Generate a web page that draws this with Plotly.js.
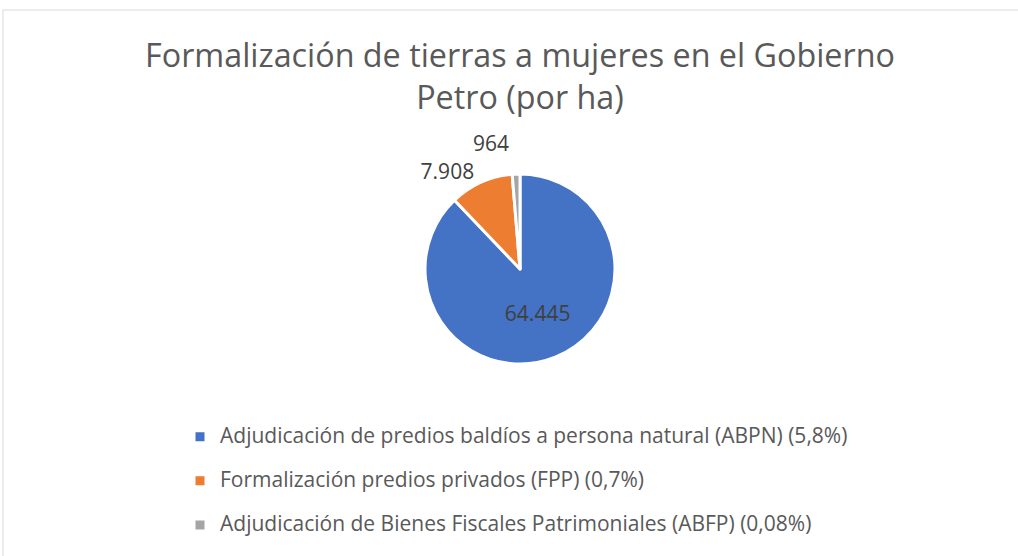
<!DOCTYPE html>
<html>
<head>
<meta charset="utf-8">
<script src="https://cdn.plot.ly/plotly-3.0.1.min.js"></script>
<style>html,body{margin:0;padding:0;background:#fff;}#chart{width:1018px;height:556px;}</style>
</head>
<body>
<div id="chart"></div>
<script>
var categories = [
  "Adjudicación de predios baldíos a persona natural (ABPN) (5,8%)",
  "Formalización predios privados (FPP) (0,7%)",
  "Adjudicación de Bienes Fiscales Patrimoniales (ABFP) (0,08%)"
];
var hectares = [64445, 7908, 964];
var sliceColors = ["#4472C4", "#ED7D31", "#A5A5A5"];
var chartTitle = "Formalización de tierras a mujeres en el Gobierno<br>Petro (por ha)";

var W = 1018, H = 556;
var legendLabels = categories.map(function(c){
  return '<span style="font-size:21px">' + c + '</span><br> ';
});

var trace = {
  type: 'pie',
  labels: legendLabels,
  values: hectares,
  sort: false,
  direction: 'clockwise',
  rotation: 0,
  marker: {colors: sliceColors, line: {color: '#ffffff', width: 3}},
  texttemplate: '%{value:,.0f}',
  textposition: ['inside', 'outside', 'outside'],
  insidetextorientation: 'horizontal',
  textfont: {family: 'Open Sans', size: 21, color: '#404040'},
  insidetextfont: {family: 'Open Sans', size: 21, color: '#404040'},
  outsidetextfont: {family: 'Open Sans', size: 21, color: '#404040'},
  hoverinfo: 'skip',
  domain: {x: [425/W, 615/W], y: [1 - 364/H, 1 - 174/H]}
};

var layout = {
  width: W, height: H,
  margin: {l: 0, r: 0, t: 0, b: 0, autoexpand: false},
  paper_bgcolor: '#ffffff',
  plot_bgcolor: '#ffffff',
  separators: ',.',
  font: {family: 'Open Sans', color: '#595959'},
  title: {
    text: chartTitle,
    font: {family: 'Open Sans', size: 32.3, color: '#595959'},
    x: 520/W, xanchor: 'center', xref: 'paper',
    y: 1 - 67/H, yanchor: 'middle', yref: 'container'
  },
  showlegend: true,
  legend: {
    orientation: 'v',
    x: 180/W, xanchor: 'left',
    y: 1 - 420/H, yanchor: 'top',
    valign: 'top',
    font: {family: 'Open Sans', size: 15.8, color: '#595959'},
    bgcolor: 'rgba(0,0,0,0)'
  },
  shapes: [
    {type: 'line', xref: 'paper', yref: 'paper', x0: 3/W, x1: 1, y0: 1 - 10/H, y1: 1 - 10/H, line: {color: '#d9d9d9', width: 1}},
    {type: 'line', xref: 'paper', yref: 'paper', x0: 3/W, x1: 3/W, y0: 1 - 10/H, y1: 0, line: {color: '#d9d9d9', width: 1}}
  ]
};

Plotly.newPlot('chart', [trace], layout, {displayModeBar: false, staticPlot: true}).then(function(gd){
  // Excel-style outside labels have no leader lines
  gd.querySelectorAll('path.textline').forEach(function(p){ p.style.display = 'none'; });
});
</script>
</body>
</html>
